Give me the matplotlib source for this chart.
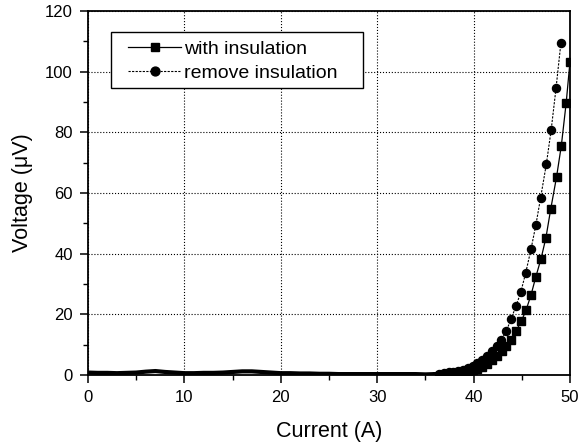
import numpy as np
import matplotlib
matplotlib.use("Agg")
import matplotlib.pyplot as plt
from matplotlib.patches import Rectangle
from matplotlib.ticker import MultipleLocator

plt.rcParams['font.family'] = ['Liberation Sans', 'DejaVu Sans']

# flat part of both curves, read every 1 A
base_current = np.arange(0, 37, 1)
base_voltage = [0.8, 0.7, 0.7, 0.6, 0.7, 0.8, 1.1, 1.3, 1.0, 0.8,
                0.6, 0.6, 0.7, 0.7, 0.8, 1.0, 1.2, 1.2, 1.0, 0.8,
                0.6, 0.6, 0.5, 0.5, 0.4, 0.4, 0.3, 0.3, 0.3, 0.3,
                0.3, 0.3, 0.3, 0.3, 0.3, 0.2, 0.3]

# with insulation (squares)
ins_current = [37.4, 37.9, 38.4, 38.9, 39.4, 39.9, 40.4, 40.9, 41.4, 41.9,
               42.4, 42.9, 43.4, 43.9, 44.4, 44.95, 45.45, 45.95, 46.45, 47.0,
               47.5, 48.0, 48.6, 49.1, 49.6, 50.0]
ins_voltage = [0.3, 0.4, 0.6, 0.8, 1.1, 1.5, 2.1, 2.8, 3.7, 4.8,
               6.2, 7.8, 9.5, 11.6, 14.5, 17.7, 21.5, 26.3, 32.3, 38.4,
               45.2, 54.7, 65.2, 75.6, 89.6, 103.3]

# remove insulation (circles)
rem_current = [36.4, 36.9, 37.4, 37.9, 38.4, 38.9, 39.4, 39.9, 40.4, 40.9,
               41.4, 41.9, 42.4, 42.85, 43.4, 43.9, 44.4, 44.9, 45.4, 45.95,
               46.45, 46.95, 47.55, 48.05, 48.55, 49.05]
rem_voltage = [0.4, 0.6, 0.9, 1.1, 1.4, 1.8, 2.3, 3.0, 3.9, 5.0,
               6.3, 7.9, 9.6, 11.4, 14.5, 18.6, 22.7, 27.4, 33.6, 41.4,
               49.3, 58.4, 69.6, 80.9, 94.5, 109.3]

fig = plt.figure(figsize=(5.81, 4.48), dpi=100)
ax = fig.add_axes([88 / 581, 73 / 448, 482 / 581, 364 / 448])

# flat baseline drawn as a thick band
ax.plot(base_current, base_voltage, 'k-', lw=3.0, solid_capstyle='butt')
ax.plot([base_current[-1], rem_current[0]], [base_voltage[-1], rem_voltage[0]], 'k-', lw=3.0)

ax.plot(ins_current, ins_voltage, 'k-', lw=0.9, marker='s', ms=5.4,
        label='with insulation')
ax.plot(rem_current, rem_voltage, color='k', ls=(0, (2, 1.2)), lw=0.8,
        marker='o', ms=5.8, label='remove insulation')

ax.set_xlim(0, 50)
ax.set_ylim(0, 120)
ax.xaxis.set_major_locator(MultipleLocator(10))
ax.xaxis.set_minor_locator(MultipleLocator(5))
ax.yaxis.set_major_locator(MultipleLocator(20))
ax.yaxis.set_minor_locator(MultipleLocator(10))

ax.grid(True, which='major', color='k', ls=':', lw=0.8)
ax.tick_params(which='major', direction='out', length=6, width=1.1,
               labelsize=12, pad=5)
ax.tick_params(which='minor', direction='out', length=3.5, width=1.0)
for s in ax.spines.values():
    s.set_linewidth(1.3)

ax.set_xlabel('Current (A)', fontsize=15.5)
ax.set_ylabel('Voltage (\u03bcV)', fontsize=15.5)
ax.xaxis.set_label_coords(0.5, -0.125)
ax.yaxis.set_label_coords(-0.115, 0.5)

# legend box drawn by hand: wide side padding, tight top/bottom
ax.add_patch(Rectangle((0.047, 0.789), 0.523, 0.154, transform=ax.transAxes,
                       facecolor='white', edgecolor='k', lw=1.0, zorder=4))
leg = ax.legend(loc='upper left', bbox_to_anchor=(0.083, 0.92), fontsize=14,
                frameon=False, handlelength=2.75, handletextpad=0.15,
                labelspacing=0.32, borderpad=0, borderaxespad=0,
                markerscale=1.1)
leg.set_zorder(5)

fig.savefig('out.png', dpi=100)
